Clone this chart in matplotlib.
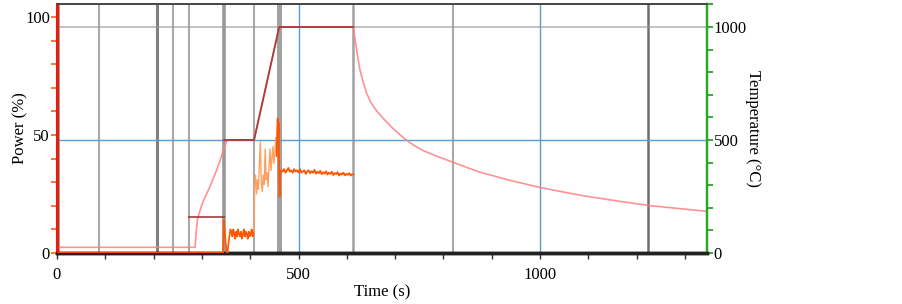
import numpy as np
import matplotlib.pyplot as plt
from matplotlib.ticker import MultipleLocator

#Data
#Temperature (measured), light pink curve
temp_t = [0, 286, 288, 291, 294, 298, 303, 310, 316, 323, 330, 337, 343, 348, 353,
          408, 460, 613, 615, 617, 620, 624, 627, 634, 641, 650, 662, 676, 696, 710,
          724, 740, 758, 790, 820, 850, 876, 940, 1000, 1045, 1090, 1160, 1228,
          1290, 1345]
temp_v = [25, 25, 90, 150, 173, 200, 230, 262, 290, 327, 364, 405, 445, 478, 500,
          500, 1000, 1000, 975, 945, 905, 850, 812, 755, 707, 665, 628, 594, 550, 523,
          498, 475, 453, 425, 401, 377, 357, 320, 290, 271, 253, 230, 209,
          196, 184]

#Setpoint, dark red line (two visible pieces)
set1_t = [273, 346]
set1_v = [160, 160]
set2_t = [346, 408, 460, 613]
set2_v = [500, 500, 1000, 1000]

#Power, orange line, three parts
pow1_t = [0, 344, 345, 347, 349, 351, 353, 355, 357, 359, 361, 363, 365, 367, 369, 371,
          373, 375, 377, 379, 381, 383, 385, 387, 389, 391, 393, 395, 397, 399,
          401, 403, 405, 407]
pow1_v = [0, 0, 14, 10, 5, 1, 0, 4, 7, 10, 9, 7, 10, 8, 6, 9, 7, 10, 8, 7, 9, 6, 8,
          10, 7, 9, 8, 6, 9, 7, 8, 10, 7, 9]
pow2_t = [408, 409, 411, 413, 415, 417, 419, 421, 423, 425, 427, 429, 431, 433, 435,
          437, 439, 441, 443, 445, 447, 449, 451, 453, 455]
pow2_v = [9, 28, 33, 25, 31, 27, 38, 47, 30, 26, 33, 29, 44, 31, 34, 28, 37, 44, 35,
          40, 45, 38, 42, 49, 41]
pow3_t = [455, 456, 457, 458, 459, 460, 461, 462, 464, 467, 470, 473, 476, 479, 482,
          485, 488, 491, 494, 497, 500, 503, 506, 509, 512, 515, 518, 521, 524, 527,
          530, 533, 536, 539, 542, 545, 548, 551, 554, 557, 560, 563, 566, 569, 572,
          575, 578, 581, 584, 587, 590, 593, 596, 599, 602, 605, 608, 611, 613]
pow3_v = [41, 52, 57, 50, 55, 31, 24, 33, 35, 34.5, 35.5, 34, 35, 36, 34.5, 35, 34,
          35.5, 34.5, 35, 34, 35.5, 34, 34.5, 35, 33.5, 34.5, 35, 33.8, 34.6, 34,
          35.2, 33.6, 34.4, 33.8, 34.8, 33.4, 34.2, 33.6, 34.6, 33.2, 34, 33.5, 34.4,
          33, 33.8, 33.4, 34.2, 32.8, 33.6, 33.2, 34, 32.9, 33.5, 33.1, 33.8, 32.8,
          33.4, 33.2]

#Event marker lines (s) and grid levels
event_t = [4, 87, 208, 241, 273, 346, 408, 460, 613, 820, 1223]
grid_time = [500, 1000]
grid_temp_blue = [500]
grid_temp_gray = [1000]

plt.rcParams['font.family'] = ['Liberation Serif', 'DejaVu Serif']

fig = plt.figure(figsize=(9.03, 3.04), dpi=100)
ax2 = fig.add_axes([0.0631, 0.168, 0.7195, 0.819])
ax = ax2.twinx()
#Swap so the power axis sits on the left and draws on top
ax.yaxis.tick_left()
ax.yaxis.set_label_position('left')
ax2.yaxis.tick_right()
ax2.yaxis.set_label_position('right')
ax.set_zorder(ax2.get_zorder() + 1)
ax.patch.set_visible(False)

#Event lines
ev_width = [1.5, 1.5, 2.2, 1.5, 1.5, 2.6, 1.5, 3.6, 1.8, 1.5, 1.8]
ev_alpha = [0.5, 0.5, 0.75, 0.5, 0.5, 0.6, 0.5, 0.55, 0.55, 0.5, 0.85]
for t, w, a in zip(event_t, ev_width, ev_alpha):
    ax2.axvline(t, color='#555555', lw=w, alpha=a, zorder=1)
for t in grid_time:
    ax2.axvline(t, color='#5b9bd5', lw=1.0, zorder=1)
for v in grid_temp_blue:
    ax2.axhline(v, color='#5b9bd5', lw=1.0, zorder=1)
for v in grid_temp_gray:
    ax2.axhline(v, color='#999999', lw=1.2, alpha=0.7, zorder=1)

#Temperature curves
ax2.plot(temp_t, temp_v, color='#ff7f7f', lw=1.2, alpha=0.85, zorder=2)
ax2.plot(set1_t, set1_v, color='#9e2a2a', lw=1.3, alpha=0.85, zorder=3)
ax2.plot(set2_t, set2_v, color='#9e2a2a', lw=1.3, alpha=0.85, zorder=3)

#Power curve
ax.plot(pow1_t, pow1_v, color='#ff5500', lw=1.2, zorder=3)
ax.plot(pow2_t, pow2_v, color='#ffa060', lw=1.0, zorder=3)
ax.plot(pow3_t, pow3_v, color='#ff5500', lw=1.3, zorder=3)

ax.set_xlim(0, 1345)
ax2.set_xlim(0, 1345)
ax.set_ylim(0, 105.5)
ax2.set_ylim(0, 1102)

#Ticks
ax2.xaxis.set_major_locator(MultipleLocator(500))
ax2.xaxis.set_minor_locator(MultipleLocator(100))
ax2.tick_params(axis='x', which='both', direction='out', length=4, width=1,
                color='#333333', labelsize=12, pad=6)
ax.set_yticks([0, 50, 100])
ax.yaxis.set_minor_locator(MultipleLocator(10))
ax.tick_params(axis='y', which='both', direction='out', length=4, width=1.3,
               color='#ff6a30', labelsize=12, pad=1)
ax2.set_yticks([0, 500, 1000])
ax2.yaxis.set_minor_locator(MultipleLocator(100))
ax2.tick_params(axis='y', which='both', direction='out', length=4, width=1.3,
                color='#2ca02c', labelsize=12, pad=1)

#Spines
for a in (ax, ax2):
    a.spines['top'].set_color('#444444')
    a.spines['top'].set_linewidth(1.2)
    a.spines['bottom'].set_color('#222222')
    a.spines['bottom'].set_linewidth(2.5)
    a.spines['left'].set_color('#e02010')
    a.spines['left'].set_linewidth(2.2)
    a.spines['right'].set_color('#22aa22')
    a.spines['right'].set_linewidth(1.6)

ax2.set_xlabel('Time (s)', fontsize=12, labelpad=1)
ax.set_ylabel('Power (%)', fontsize=12, labelpad=-2)
ax2.set_ylabel('Temperature (°C)', fontsize=12, rotation=270, labelpad=10)

fig.savefig('out.png', dpi=100)
